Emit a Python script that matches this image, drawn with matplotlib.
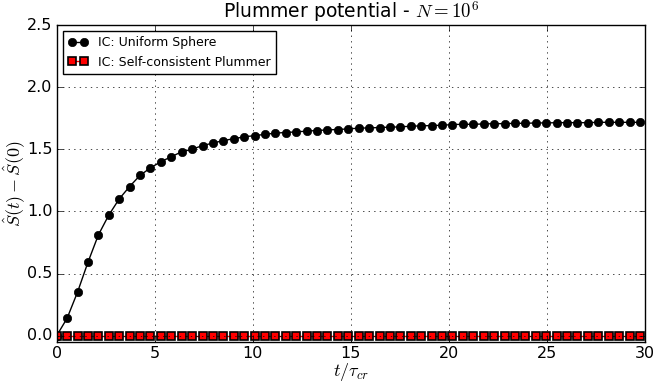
import matplotlib
matplotlib.use("Agg")
import matplotlib.pyplot as plt
import numpy as np

# time in units of tau_cr, sampled every ~0.531
dt = 0.531
n_points = 57

uniform_sphere = [
    0.0, 0.14, 0.35, 0.59, 0.81, 0.97, 1.10, 1.20, 1.29, 1.35,
    1.40, 1.44, 1.48, 1.50, 1.53, 1.55, 1.57, 1.585, 1.60, 1.61,
    1.62, 1.63, 1.635, 1.640, 1.646, 1.651, 1.656, 1.659, 1.664, 1.670,
    1.672, 1.675, 1.678, 1.680, 1.686, 1.688, 1.691, 1.693, 1.699, 1.701,
    1.701, 1.704, 1.706, 1.706, 1.709, 1.709, 1.712, 1.712, 1.714, 1.714,
    1.714, 1.714, 1.717, 1.717, 1.717, 1.717, 1.717,
]
plummer = [0.0] * n_points

t = np.arange(n_points) * dt


def main():
    plt.style.use("classic")
    fig = plt.figure(figsize=(6.59, 3.85), dpi=100, facecolor="white")
    ax = fig.add_subplot(111)
    fig.subplots_adjust(left=0.086, right=0.979, top=0.935, bottom=0.112)

    ax.plot(t, uniform_sphere, "-o", color="black", markersize=6,
            markeredgecolor="black", label="IC: Uniform Sphere")
    ax.plot(t, plummer, "-s", color="red", markersize=6,
            markeredgecolor="black", markeredgewidth=1.2,
            label="IC: Self-consistent Plummer")

    ax.set_xlim(0, 30)
    ax.set_ylim(-0.05, 2.5)
    ax.set_xticks(np.arange(0, 31, 5))
    ax.set_yticks(np.arange(0, 2.51, 0.5))
    ax.tick_params(labelsize=11.5, pad=3)
    ax.grid(True)

    ax.set_xlabel(r"$t/\tau_{cr}$", fontsize=13, labelpad=0)
    ax.set_ylabel(r"$\hat{S}(t)-\hat{S}(0)$", fontsize=13, labelpad=0)
    ax.set_title(r"Plummer potential - $N=10^6$", fontsize=13.5)

    ax.legend(loc="upper left", fontsize=9, numpoints=2, handlelength=1.6)

    fig.savefig("out.png", dpi=100, facecolor="white")


if __name__ == "__main__":
    main()
